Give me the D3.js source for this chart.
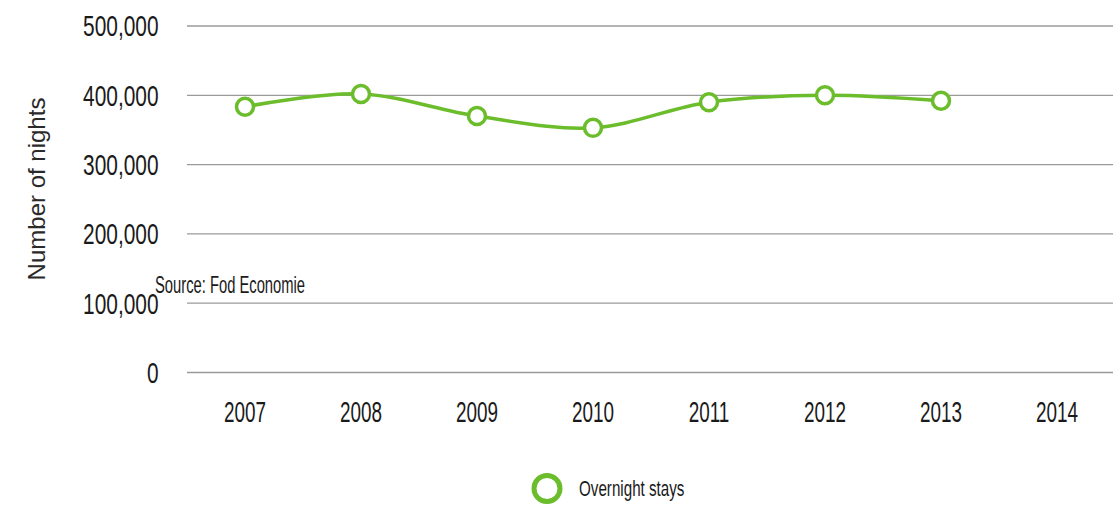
<!DOCTYPE html>
<html>
<head>
<meta charset="utf-8">
<script src="https://cdn.jsdelivr.net/npm/d3@7"></script>
<style>
  html, body { margin: 0; padding: 0; background: #fff; }
  svg { display: block; }
  .cond { font-family: "Liberation Sans", Arial, sans-serif; fill: #1a1a1a; }
</style>
</head>
<body>
<svg id="chart" width="1113" height="506"></svg>
<script>
// Overnight stays per year
const years = ["2007", "2008", "2009", "2010", "2011", "2012", "2013", "2014"];
const stayYears = ["2007", "2008", "2009", "2010", "2011", "2012", "2013"];
const stayValues = [383500, 402000, 370000, 353000, 390000, 400000, 392000];
const yTicks = [0, 100000, 200000, 300000, 400000, 500000];
const seriesName = "Overnight stays";
const axisTitle = "Number of nights";
const sourceNote = "Source: Fod Economie";

const W = 1113, H = 506;
const plot = { left: 187, right: 1115, top: 26, bottom: 372.5 };
const green = "#6bbd2c";

const svg = d3.select("#chart");

const x = d3.scaleBand().domain(years).range([plot.left, plot.right]);
const y = d3.scaleLinear().domain([0, 500000]).range([plot.bottom, plot.top]);

// places a horizontally condensed text label at (px, py)
function placeCondensed(sel, px, py, sx) {
  sel.attr("x", 0).attr("y", 0)
    .attr("transform", (d, i) => {
      const tx = typeof px === "function" ? px(d, i) : px;
      const ty = typeof py === "function" ? py(d, i) : py;
      return `translate(${tx},${ty}) scale(${sx},1)`;
    });
}

// horizontal grid lines
svg.append("g")
  .selectAll("line")
  .data(yTicks)
  .join("line")
  .attr("x1", plot.left)
  .attr("x2", W)
  .attr("y1", d => y(d))
  .attr("y2", d => y(d))
  .attr("stroke", "#9a9a9a")
  .attr("stroke-width", 1.3);

// y tick labels
const fmt = d3.format(",");
svg.append("g")
  .selectAll("text")
  .data(yTicks)
  .join("text")
  .attr("class", "cond")
  .attr("text-anchor", "end")
  .attr("dy", "0.36em")
  .style("font-size", "29px")
  .text(d => fmt(d))
  .call(placeCondensed, 158.5, d => y(d), 0.72);

// x tick labels
svg.append("g")
  .selectAll("text")
  .data(years)
  .join("text")
  .attr("class", "cond")
  .attr("text-anchor", "middle")
  .style("font-size", "30px")
  .text(d => d)
  .call(placeCondensed, d => x(d) + x.bandwidth() / 2, 421.5, 0.63);

// y axis title
svg.append("text")
  .attr("transform", `translate(45,189) rotate(-90)`)
  .attr("text-anchor", "middle")
  .style("font-family", "'Liberation Sans', 'DejaVu Sans', sans-serif")
  .style("font-size", "24px")
  .style("fill", "#2a2a2a")
  .text(axisTitle);

// source note
svg.append("text")
  .attr("class", "cond")
  .style("font-size", "24px")
  .text(sourceNote)
  .call(placeCondensed, 155, 292.5, 0.615);

// series line
const pts = stayYears.map((yr, i) => [x(yr) + x.bandwidth() / 2, y(stayValues[i])]);
const line = d3.line().curve(d3.curveCatmullRom.alpha(0.5));
svg.append("path")
  .attr("d", line(pts))
  .attr("fill", "none")
  .attr("stroke", green)
  .attr("stroke-width", 3.5);

// markers
svg.append("g")
  .selectAll("circle")
  .data(pts)
  .join("circle")
  .attr("cx", d => d[0])
  .attr("cy", d => d[1])
  .attr("r", 8.5)
  .attr("fill", "#fff")
  .attr("stroke", green)
  .attr("stroke-width", 3.5);

// legend
const legend = svg.append("g").attr("transform", "translate(547,488.5)");
legend.append("circle")
  .attr("r", 13)
  .attr("fill", "#fff")
  .attr("stroke", green)
  .attr("stroke-width", 5);
legend.append("text")
  .attr("class", "cond")
  .attr("dy", "0.36em")
  .style("font-size", "22px")
  .text(seriesName)
  .call(placeCondensed, 32, 0, 0.69);
</script>
</body>
</html>
